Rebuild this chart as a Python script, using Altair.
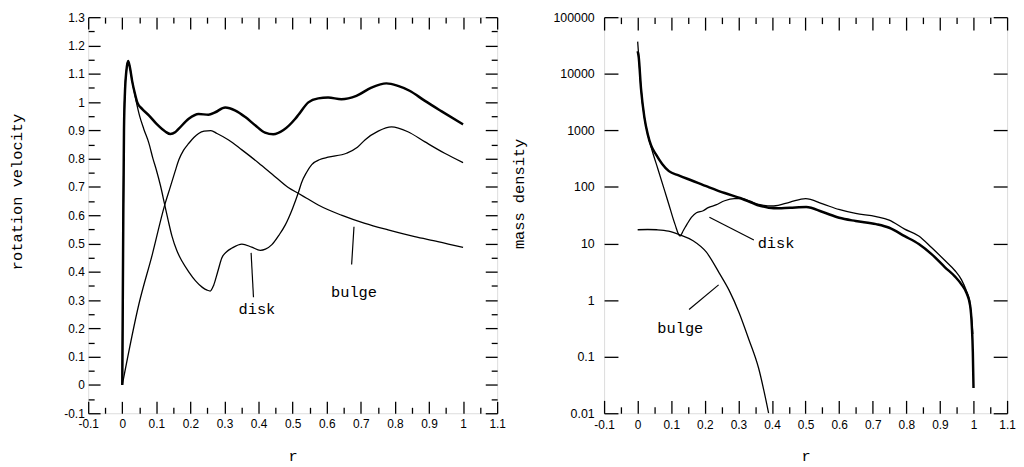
import altair as alt
import pandas as pd

# ---------------- left panel: rotation velocity ----------------
LT_R = [0.0, 0.003, 0.005, 0.008, 0.012, 0.017, 0.022, 0.029, 0.037, 0.044, 0.058, 0.078, 0.102, 0.127,
        0.141, 0.155, 0.166, 0.195, 0.224, 0.253, 0.273, 0.302, 0.332, 0.361, 0.390, 0.419, 0.443, 0.473,
        0.507, 0.517, 0.546, 0.575, 0.604, 0.643, 0.687, 0.731, 0.775, 0.809, 0.843, 0.887, 0.936, 1.0]
LT_V = [0.0, 0.6, 0.9, 1.04, 1.11, 1.145, 1.125, 1.074, 1.03, 0.999, 0.976, 0.953, 0.921, 0.895,
        0.887, 0.893, 0.906, 0.941, 0.958, 0.955, 0.964, 0.981, 0.970, 0.947, 0.918, 0.892, 0.886, 0.901,
        0.94, 0.955, 0.999, 1.013, 1.016, 1.010, 1.022, 1.051, 1.066, 1.057, 1.040, 1.005, 0.968, 0.921]

LD_R = [0.0, 0.003, 0.005, 0.008, 0.012, 0.017, 0.022, 0.029, 0.037, 0.043, 0.05, 0.063, 0.078, 0.09,
        0.1, 0.112, 0.124, 0.135, 0.146, 0.16, 0.175, 0.195, 0.215, 0.235, 0.249, 0.258, 0.268, 0.28,
        0.292, 0.307, 0.322, 0.351, 0.38, 0.405, 0.42, 0.439, 0.46, 0.478, 0.50, 0.517, 0.526, 0.541,
        0.556, 0.58, 0.604, 0.658, 0.69, 0.712, 0.751, 0.79, 0.838, 0.887, 0.946, 1.0]
LD_V = [0.0, 0.6, 0.9, 1.04, 1.11, 1.145, 1.125, 1.074, 1.025, 0.99, 0.955, 0.905, 0.855, 0.80,
        0.76, 0.705, 0.640, 0.58, 0.525, 0.475, 0.438, 0.40, 0.368, 0.345, 0.335, 0.332, 0.352, 0.40,
        0.449, 0.472, 0.484, 0.498, 0.487, 0.476, 0.48, 0.496, 0.53, 0.565, 0.625, 0.681, 0.715, 0.752,
        0.779, 0.797, 0.805, 0.819, 0.84, 0.866, 0.897, 0.912, 0.895, 0.860, 0.819, 0.786]

LB_R = [0.0, 0.049, 0.088, 0.124, 0.141, 0.155, 0.166, 0.18, 0.195, 0.21, 0.224, 0.24, 0.26, 0.278,
        0.312, 0.351, 0.40, 0.44, 0.487, 0.52, 0.541, 0.575, 0.643, 0.712, 0.78, 0.858, 0.926, 1.0]
LB_V = [0.0, 0.287, 0.461, 0.634, 0.70, 0.755, 0.796, 0.83, 0.854, 0.875, 0.889, 0.897, 0.899, 0.889,
        0.866, 0.831, 0.785, 0.745, 0.698, 0.675, 0.66, 0.636, 0.600, 0.571, 0.548, 0.524, 0.507, 0.486]

L_TEXT = ["disk", "bulge"]
L_TEXT_R = [0.395, 0.68]
L_TEXT_V = [0.27, 0.328]
L_LEAD_R1 = [0.378, 0.68]
L_LEAD_V1 = [0.467, 0.559]
L_LEAD_R2 = [0.385, 0.673]
L_LEAD_V2 = [0.31, 0.426]

# ---------------- right panel: mass density ----------------
RT_R = [0.0, 0.003, 0.01, 0.02, 0.03, 0.04, 0.054, 0.073, 0.093, 0.122, 0.161, 0.21, 0.259, 0.307,
        0.356, 0.405, 0.454, 0.502, 0.551, 0.6, 0.649, 0.71, 0.749, 0.795, 0.837, 0.875, 0.915, 0.945,
        0.964, 0.98, 0.99, 0.995, 0.998, 1.0]
RT_D = [25000, 20000, 5400, 1700, 850, 540, 380, 255, 190, 160, 130, 100, 78, 63,
        48, 42, 43, 44, 36, 28.5, 25, 22, 19, 13.5, 9.8, 6.5, 3.8, 2.6,
        1.9, 1.3, 0.8, 0.35, 0.12, 0.028]

RD_R = [0.0, 0.003, 0.01, 0.02, 0.03, 0.043, 0.06, 0.08, 0.092, 0.111, 0.126, 0.136, 0.147, 0.16,
        0.175, 0.195, 0.21, 0.233, 0.259, 0.288, 0.312, 0.335, 0.36, 0.405, 0.454, 0.50, 0.551, 0.599,
        0.649, 0.71, 0.749, 0.795, 0.837, 0.875, 0.915, 0.945, 0.964, 0.98, 0.988, 0.994, 0.998]
RD_D = [37000, 21000, 5400, 1700, 850, 440, 210, 87, 51, 22, 13.6, 17, 22, 29,
        35, 38, 43, 48, 57, 62, 62, 56, 49, 46, 54, 62, 50, 40,
        34, 30, 26, 18, 13.6, 8.5, 5.0, 3.3, 2.3, 1.4, 1.0, 0.5, 0.25]

RB_R = [0.0, 0.03, 0.058, 0.092, 0.126, 0.165, 0.204, 0.243, 0.272, 0.302, 0.33, 0.36, 0.39]
RB_D = [17.5, 17.7, 17.5, 16.6, 14.2, 11.2, 7.1, 3.0, 1.5, 0.6, 0.21, 0.063, 0.01]

R_TEXT = ["disk", "bulge"]
R_TEXT_R = [0.412, 0.127]
R_TEXT_D = [10.3, 0.323]
R_LEAD_R1 = [0.2136, 0.153]
R_LEAD_D1 = [29.2, 0.684]
R_LEAD_R2 = [0.346, 0.241]
R_LEAD_D2 = [11.5, 1.86]

# ---------------- ticks ----------------
X_MAJOR = [-0.1, 0.0, 0.1, 0.2, 0.3, 0.4, 0.5, 0.6, 0.7, 0.8, 0.9, 1.0, 1.1]
X_MINOR = [-0.05, 0.05, 0.15, 0.25, 0.35, 0.45, 0.55, 0.65, 0.75, 0.85, 0.95, 1.05]
LY_MAJOR = [-0.1, 0.0, 0.1, 0.2, 0.3, 0.4, 0.5, 0.6, 0.7, 0.8, 0.9, 1.0, 1.1, 1.2, 1.3]
LY_MINOR = [-0.05, 0.05, 0.15, 0.25, 0.35, 0.45, 0.55, 0.65, 0.75, 0.85, 0.95, 1.05, 1.15, 1.25]
RY_MAJOR = [0.01, 0.1, 1, 10, 100, 1000, 10000, 100000]

LABEL_FONT = "Liberation Sans"
TITLE_FONT = "Liberation Mono"
LIN_EXPR = "datum.value < 0 ? '-' + format(-datum.value, '~f') : format(datum.value, '~f')"
LOG_EXPR = "format(datum.value, '~f')"


def line_df(rs, vs):
    return pd.DataFrame({"r": rs, "v": vs, "i": list(range(len(rs)))})


def tick_axis(orient, values, size):
    return alt.Axis(orient=orient, values=values, tickSize=size, offset=-size, domain=False,
                    grid=False, labels=False, ticks=True, tickColor="black", tickWidth=1.3,
                    title=None)


def label_axis(orient, values, size, title, label_pad, title_pad, expr, label_size=12, **extra):
    return alt.Axis(orient=orient, values=values, tickSize=size, offset=-size, domain=False,
                    grid=False, labels=True, labelExpr=expr, labelPadding=label_pad,
                    labelFont=LABEL_FONT, labelFontSize=label_size, labelColor="black",
                    labelFlush=False, labelOverlap=False, tickColor="black", tickWidth=1.3,
                    title=title, titlePadding=title_pad, titleFont=TITLE_FONT,
                    titleFontSize=15.5, titleFontWeight="normal", titleColor="black", **extra)


def panel(total, disk, bulge, texts, leaders, xscale, yscale, axes, w, h):
    l1 = alt.Chart(total).mark_line(color="black", strokeWidth=2.5, clip=True,
                                    interpolate="monotone").encode(
        x=alt.X("r:Q", scale=xscale, axis=axes["x1"]),
        y=alt.Y("v:Q", scale=yscale, axis=axes["y1"]),
        order="i:Q")
    l2 = alt.Chart(disk).mark_line(color="black", strokeWidth=1.3, clip=True,
                                   interpolate="monotone").encode(
        x=alt.X("r:Q", scale=xscale, axis=axes["x2"]),
        y=alt.Y("v:Q", scale=yscale, axis=axes["y2"]),
        order="i:Q")
    l3 = alt.Chart(bulge).mark_line(color="black", strokeWidth=1.3, clip=True,
                                    interpolate="monotone").encode(
        x=alt.X("r:Q", scale=xscale, axis=axes["x3"]),
        y=alt.Y("v:Q", scale=yscale, axis=axes["y3"]),
        order="i:Q")
    l4 = alt.Chart(texts).mark_text(font=TITLE_FONT, fontSize=15.5, color="black",
                                    align="center", baseline="middle").encode(
        x=alt.X("r:Q", scale=xscale, axis=axes["x4"]),
        y=alt.Y("v:Q", scale=yscale, axis=axes["y4"]),
        text="label:N")
    l5 = alt.Chart(leaders).mark_rule(color="black", strokeWidth=1.2).encode(
        x=alt.X("r1:Q", scale=xscale, axis=None),
        y=alt.Y("v1:Q", scale=yscale, axis=None),
        x2="r2:Q", y2="v2:Q")
    return alt.layer(l1, l2, l3, l4, l5).resolve_axis(
        x="independent", y="independent").properties(width=w, height=h)


x_scale = alt.Scale(domain=[-0.1, 1.1], nice=False, zero=False)
ly_scale = alt.Scale(domain=[-0.1, 1.3], nice=False, zero=False)
ry_scale = alt.Scale(type="log", domain=[0.01, 100000], nice=False)

left_axes = {
    "x1": label_axis("bottom", X_MAJOR, 12, "r", 5, 20, LIN_EXPR),
    "y1": label_axis("left", LY_MAJOR, 12, "rotation velocity", 4, 40, LIN_EXPR, titleY=176),
    "x2": tick_axis("bottom", X_MINOR, 6),
    "y2": tick_axis("left", LY_MINOR, 6),
    "x3": tick_axis("top", X_MAJOR, 12),
    "y3": tick_axis("right", LY_MAJOR, 12),
    "x4": tick_axis("top", X_MINOR, 6),
    "y4": tick_axis("right", LY_MINOR, 6),
}
right_axes = {
    "x1": label_axis("bottom", X_MAJOR, 13, "r", 6, 19, LIN_EXPR),
    "y1": label_axis("left", RY_MAJOR, 14, "mass density", 10, 27, LOG_EXPR, label_size=12.5,
                     titleY=178),
    "x2": tick_axis("bottom", X_MINOR, 6.5),
    "y2": None,
    "x3": tick_axis("top", X_MAJOR, 13),
    "y3": tick_axis("right", RY_MAJOR, 14),
    "x4": tick_axis("top", X_MINOR, 6.5),
    "y4": None,
}

left = panel(
    line_df(LT_R, LT_V), line_df(LD_R, LD_V), line_df(LB_R, LB_V),
    pd.DataFrame({"r": L_TEXT_R, "v": L_TEXT_V, "label": L_TEXT}),
    pd.DataFrame({"r1": L_LEAD_R1, "v1": L_LEAD_V1, "r2": L_LEAD_R2, "v2": L_LEAD_V2}),
    x_scale, ly_scale, left_axes, 413, 400)

right = panel(
    line_df(RT_R, RT_D), line_df(RD_R, RD_D), line_df(RB_R, RB_D),
    pd.DataFrame({"r": R_TEXT_R, "v": R_TEXT_D, "label": R_TEXT}),
    pd.DataFrame({"r1": R_LEAD_R1, "v1": R_LEAD_D1, "r2": R_LEAD_R2, "v2": R_LEAD_D2}),
    x_scale, ry_scale, right_axes, 407, 400)

chart = alt.hconcat(left, right, spacing=4).properties(
    padding={"left": 0, "top": 0, "right": 0, "bottom": 0}
).configure_view(stroke="black", strokeWidth=2).configure(background="white")

chart.save("out.html", embed_options={"renderer": "svg", "actions": False})
